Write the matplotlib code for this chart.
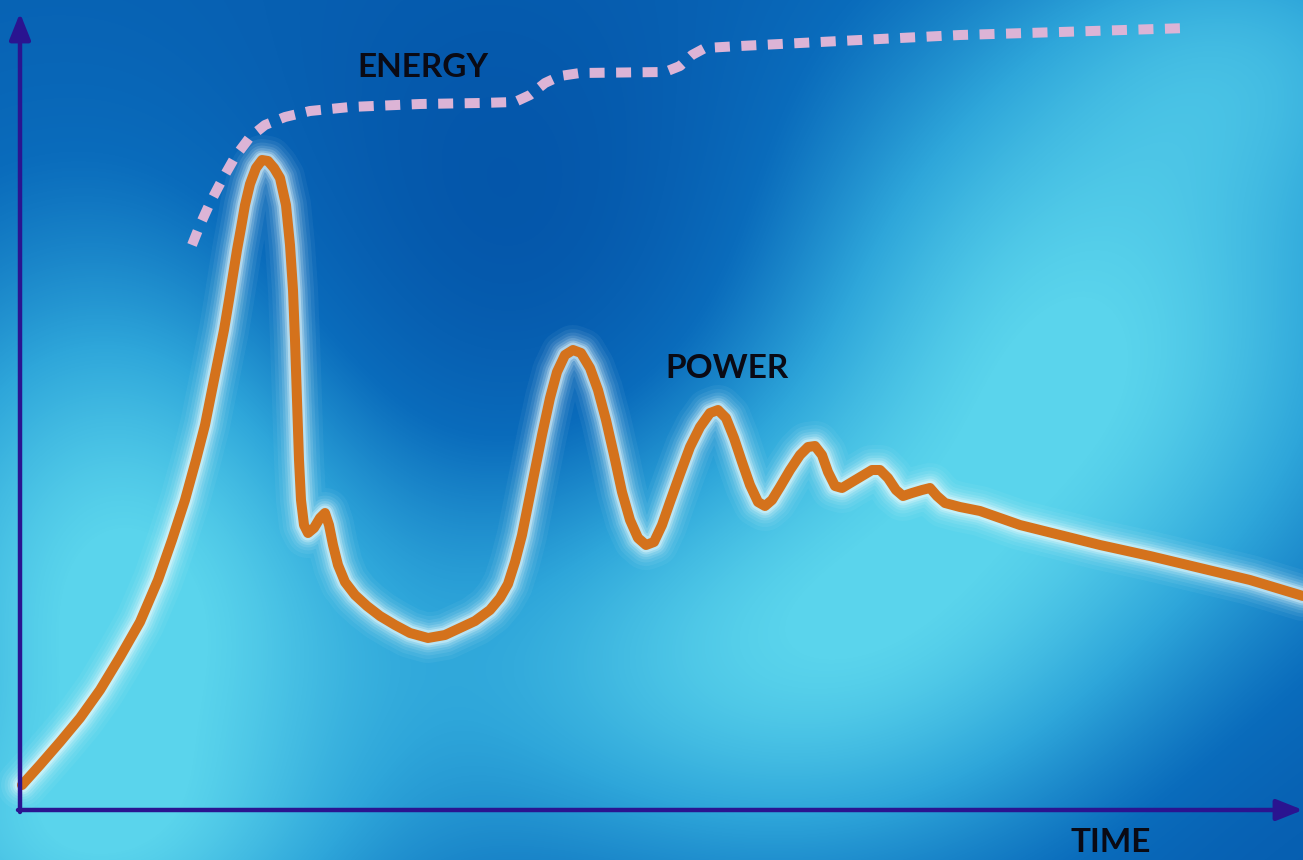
import numpy as np
import matplotlib
matplotlib.use('Agg')
import matplotlib.pyplot as plt
from matplotlib.colors import LinearSegmentedColormap

# power curve (time / power from the axis origin)
power_t = [2, 20, 40, 60, 80, 100, 120, 138, 152, 165, 176, 185, 193, 199, 204,
           209, 213, 217, 221, 225, 230, 236, 242, 248, 254, 260, 266, 270, 273, 275,
           277, 279, 281, 284, 288, 294, 300, 305, 309, 313, 318, 325, 335, 347, 360,
           375, 390, 408, 425, 440, 455, 470, 480, 488, 495, 502, 508, 515, 522, 530,
           537, 545, 553, 561, 570, 578, 586, 594, 602, 610, 618, 626, 634, 642, 650,
           660, 670, 680, 690, 698, 706, 714, 722, 730, 738, 745, 752, 760, 770, 780,
           788, 795, 802, 808, 815, 822, 832, 842, 852, 860, 868, 876, 883, 892, 902,
           910, 917, 925, 940, 960, 980, 1000, 1040, 1080, 1130, 1180, 1230, 1283]
power_v = [25, 45, 68, 92, 120, 153, 188, 230, 270, 310, 350, 385, 425, 455, 480,
           510, 535, 560, 582, 605, 626, 642, 650, 649, 642, 632, 605, 565, 520, 470,
           410, 350, 310, 285, 277, 282, 292, 297, 285, 265, 245, 228, 215, 204, 194,
           185, 177, 172, 175, 182, 189, 200, 212, 226, 248, 275, 305, 340, 375, 412,
           438, 455, 460, 457, 442, 420, 390, 355, 318, 290, 272, 265, 268, 285, 308,
           336, 363, 383, 397, 400, 392, 372, 348, 325, 308, 304, 310, 323, 340, 355,
           363, 364, 355, 338, 324, 322, 328, 334, 340, 340, 332, 320, 314, 317, 320,
           322, 314, 307, 303, 299, 292, 285, 275, 265, 254, 242, 230, 214]

# energy curve (dashed)
energy_t = [172, 180, 190, 202, 215, 230, 245, 265, 290, 330, 400, 460, 495, 510,
            525, 540, 560, 645, 660, 672, 685, 720, 780, 860, 940, 1040, 1168]
energy_v = [565, 585, 607, 630, 653, 673, 685, 693, 699, 703, 706, 707, 708, 715,
            727, 734, 737, 738, 744, 755, 762, 764, 767, 771, 775, 778, 782]

labels = {'ENERGY': (403, 733), 'POWER': (707, 432), 'TIME': (1091, -42)}

W, H = 1303, 860
fig = plt.figure(figsize=(W / 100, H / 100), dpi=100)
ax = fig.add_axes([0, 0, 1, 1])
ax.set_xlim(-20, W - 20)
ax.set_ylim(-50, H - 50)
ax.axis('off')

# soft blue background made of a few light blobs on a dark base
px, py = np.meshgrid(np.arange(W), np.arange(H))


def blob(cx, cy, sx, sy, amp):
    return amp * np.exp(-((px - cx) ** 2 / (2 * sx ** 2) + (py - cy) ** 2 / (2 * sy ** 2)))


field = 0.17 + blob(120, 600, 190, 260, 0.85) + blob(1080, 330, 240, 230, 0.8) \
    + blob(760, 660, 260, 170, 0.7) + blob(1270, 40, 160, 110, 0.35) \
    + blob(40, 860, 200, 90, 0.3) - blob(520, 260, 220, 200, 0.22) \
    - blob(1280, 820, 200, 200, 0.1)
field = np.clip(field, 0, 1)
cmap = LinearSegmentedColormap.from_list('bg', ['#0454a8', '#0a6cbc', '#2ea6da', '#5ad4ec'])
ax.imshow(field, cmap=cmap, vmin=0, vmax=1, extent=(-20, W - 20, -50, H - 50),
          origin='upper', aspect='auto', interpolation='bilinear', zorder=0)

# glow around the power curve
for w, a in [(50, 0.05), (42, 0.07), (35, 0.09), (29, 0.12), (24, 0.17), (19, 0.26), (15, 0.4)]:
    ax.plot(power_t, power_v, color='#eafcff', lw=w / 1.389, alpha=a,
            solid_capstyle='round', solid_joinstyle='round', zorder=2)
ax.plot(power_t, power_v, color='#d4721c', lw=10 / 1.389,
        solid_capstyle='round', solid_joinstyle='round', zorder=3)

# energy curve
ax.plot(energy_t, energy_v, color='#dcb4d6', lw=10 / 1.389, linestyle=(0, (1.5, 1.15)),
        dash_capstyle='butt', zorder=3)

# axes with arrow heads
axis_col = '#2a1490'
ax.annotate('', xy=(0, 797), xytext=(0, -2),
            arrowprops=dict(arrowstyle='-|>,head_length=0.8,head_width=0.32', lw=3.2,
                            color=axis_col, mutation_scale=20, shrinkA=0, shrinkB=0), zorder=4)
ax.annotate('', xy=(1283, 0), xytext=(-2, 0),
            arrowprops=dict(arrowstyle='-|>,head_length=0.8,head_width=0.32', lw=3.2,
                            color=axis_col, mutation_scale=20, shrinkA=0, shrinkB=0), zorder=4)

for txt, (tx, ty) in labels.items():
    ax.text(tx, ty, txt, ha='center', va='baseline', fontsize=24, fontweight='bold',
            family=['Lato', 'DejaVu Sans'], color='#0a0a14', zorder=5)

fig.savefig('out.png', dpi=100)
